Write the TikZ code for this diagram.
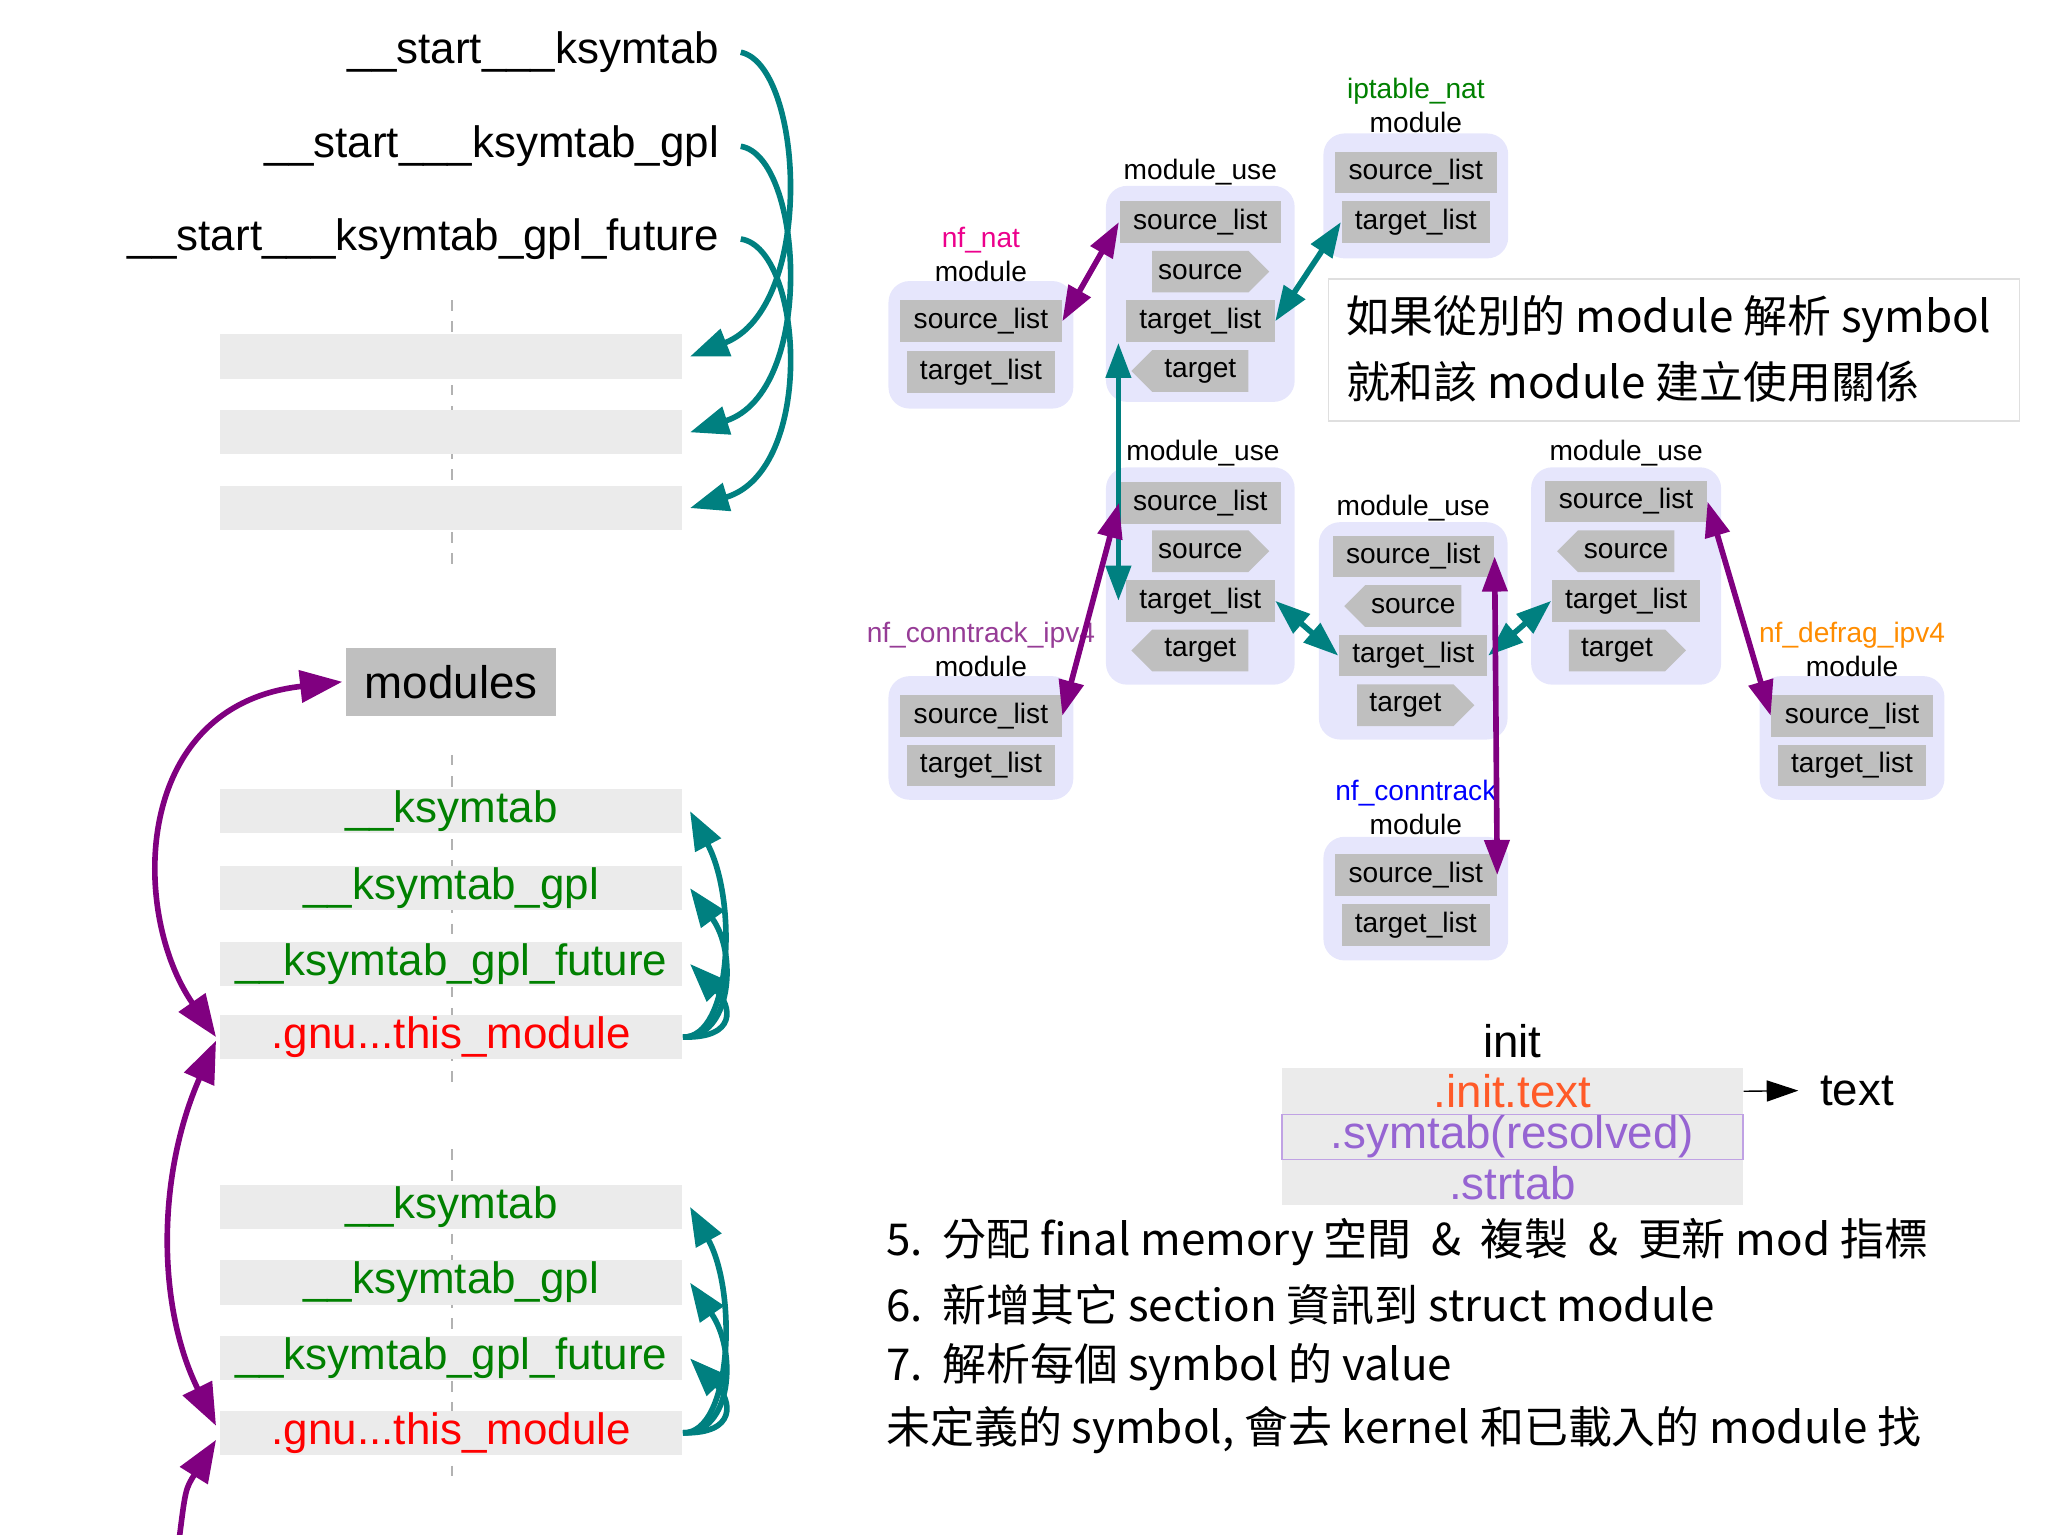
\documentclass[tikz,border=0pt]{standalone}
\usepackage{fontspec}
\setmainfont{Liberation Sans}
\newfontfamily\cjk{Noto Sans CJK TC}
\usetikzlibrary{shapes.symbols,arrows.meta}
\definecolor{lav}{RGB}{230,230,252}
\definecolor{tl}{RGB}{0,128,128}
\definecolor{pu}{RGB}{128,0,128}
\definecolor{nfpur}{RGB}{150,60,150}
\definecolor{initred}{RGB}{255,90,40}
\definecolor{symp}{RGB}{150,100,210}
\def\u{0.3703pt}
\tikzset{
 big/.style={font=\fontsize{12.5}{14}\selectfont, inner sep=0pt},
 bar/.style={fill=gray!16, minimum width=355*\u, minimum height=34*\u, inner sep=0pt, font=\fontsize{12.5}{14}\selectfont},
 grn/.style={bar, text={rgb,255:red,0;green,128;blue,0}},
 gnu/.style={bar, text=red},
 sm/.style={font=\fontsize{8}{9}\selectfont, inner sep=0pt},
 item/.style={sm, fill=gray!50, minimum height=32*\u, inner sep=0pt},
 sl/.style={item, minimum width=124*\u},
 tli/.style={item, minimum width=114*\u},
 sige/.style={item, signal, signal to=east, minimum width=90*\u},
 sigw/.style={item, signal, signal to=west, minimum width=90*\u},
 modbox/.style={fill=lav, rounded corners=6pt, inner sep=0pt},
 tarr/.style={draw=tl, line width=1.6pt, -{Triangle[length=11pt,width=8pt]}},
 parr/.style={draw=pu, line width=1.6pt, -{Triangle[length=11pt,width=8pt]}},
 tdbl/.style={draw=tl, line width=1.6pt, {Triangle[length=10pt,width=7pt]}-{Triangle[length=10pt,width=7pt]}},
 pdbl/.style={draw=pu, line width=1.6pt, {Triangle[length=10pt,width=7pt]}-{Triangle[length=10pt,width=7pt]}},
 cj/.style={font=\cjk\fontsize{12.5}{17.8}\selectfont, inner sep=0pt},
}
\begin{document}
\begin{tikzpicture}[x=0.013061cm, y=-0.013061cm]
\useasboundingbox (0,0) rectangle (1568,1175);
% ---------- left side ----------
\node[big, anchor=east] (s1) at (551,40) {\_\_start\_\_\_ksymtab};
\node[big, anchor=east] (s2) at (551,112) {\_\_start\_\_\_ksymtab\_gpl};
\node[big, anchor=east] (s3) at (551,183) {\_\_start\_\_\_ksymtab\_gpl\_future};
\coordinate (d1a) at (346,230); \coordinate (d1b) at (346,432);
\draw[gray!60, dashed, thin] (d1a) -- (d1b);
\node[bar] (b1) at (345.5,273) {};
\node[bar] (b2) at (345.5,331) {};
\node[bar] (b3) at (345.5,389) {};
\draw[tarr] ([xshift=6pt]s1.east) .. controls (615,50) and (625,235) .. ([xshift=2pt]b1.east);
\draw[tarr] ([xshift=6pt]s2.east) .. controls (615,120) and (625,300) .. ([xshift=2pt]b2.east);
\draw[tarr] ([xshift=6pt]s3.east) .. controls (615,190) and (625,360) .. ([xshift=2pt]b3.east);

\node[fill=gray!50, minimum width=161*\u, minimum height=52*\u, inner sep=0pt, font=\fontsize{13}{15}\selectfont] (mods) at (345.5,522) {modules};
\coordinate (d2a) at (346,578); \coordinate (d2b) at (346,832);
\draw[gray!60, dashed, thin] (d2a) -- (d2b);
\node[grn] (k1) at (345.5,621) {\_\_ksymtab};
\node[grn] (k2) at (345.5,680) {\_\_ksymtab\_gpl};
\node[grn] (k3) at (345.5,738) {\_\_ksymtab\_gpl\_future};
\node[gnu] (g1) at (345.5,794) {.gnu...this\_module};
\coordinate (d3a) at (346,880); \coordinate (d3b) at (346,1135);
\draw[gray!60, dashed, thin] (d3a) -- (d3b);
\node[grn] (m1) at (345.5,924) {\_\_ksymtab};
\node[grn] (m2) at (345.5,982) {\_\_ksymtab\_gpl};
\node[grn] (m3) at (345.5,1040) {\_\_ksymtab\_gpl\_future};
\node[gnu] (g2) at (345.5,1097) {.gnu...this\_module};

\draw[tarr] (g1.east) .. controls (560,795) and (565,690) .. ([xshift=2pt]k1.east);
\draw[tarr] (g1.east) .. controls (560,795) and (565,730) .. ([xshift=2pt]k2.east);
\draw[tarr] (g1.east) .. controls (565,795) and (560,770) .. ([xshift=2pt]k3.east);
\draw[tarr] (g2.east) .. controls (560,1098) and (565,990) .. ([xshift=2pt]m1.east);
\draw[tarr] (g2.east) .. controls (560,1098) and (565,1035) .. ([xshift=2pt]m2.east);
\draw[tarr] (g2.east) .. controls (565,1098) and (560,1072) .. ([xshift=2pt]m3.east);

\draw[draw=pu, line width=1.6pt, {Triangle[length=12pt,width=9pt]}-{Triangle[length=12pt,width=9pt]}] ([xshift=-1pt]g1.west) .. controls (100,700) and (100,540) .. ([xshift=-1pt]mods.west);
\draw[draw=pu, line width=1.6pt, {Triangle[length=12pt,width=9pt]}-{Triangle[length=12pt,width=9pt]}] ([xshift=-1pt,yshift=-1pt]g1.west) .. controls (120,900) and (120,1000) .. ([xshift=-1pt,yshift=2pt]g2.west);
\coordinate (bot) at (137,1180);
\draw[draw=pu, line width=1.6pt, -{Triangle[length=12pt,width=9pt]}] (bot) .. controls (142,1140) .. ([xshift=-1pt,yshift=-2pt]g2.west);

% ---------- right side : module boxes ----------
% A nf_nat
\node[modbox, minimum width=142*\u, minimum height=98*\u] (A) at (751,264) {};
\node[sm, text=magenta] (Al) at (751,184) {nf\_nat};
\node[sm] (Am) at (751,208) {module};
\node[sl] (Asl) at (751,246) {source\_list};
\node[tli] (Atl) at (751,285) {target\_list};
% B module_use
\node[modbox, minimum width=145*\u, minimum height=166*\u] (B) at (919,225) {};
\node[sm] (Bl) at (919,132) {module\_use};
\node[sl] (Bsl) at (919,170) {source\_list};
\node[sige] (Bs) at (919,208) {source};
\node[tli] (Btl) at (919,246) {target\_list};
\node[sigw] (Bt) at (919,284) {target};
% C iptable_nat
\node[modbox, minimum width=142*\u, minimum height=96*\u] (C) at (1084,150) {};
\node[sm, text={rgb,255:red,0;green,128;blue,0}] (Cl) at (1084,70) {iptable\_nat};
\node[sm] (Cm) at (1084,94) {module};
\node[sl] (Csl) at (1084,132) {source\_list};
\node[tli] (Ctl) at (1084,170) {target\_list};
% text box
\node[draw=gray!25, fill=white, minimum width=531*\u, minimum height=109*\u, inner sep=0pt] (TB) at (1281.5,268) {};
\node[cj, anchor=west] (TB1) at (1030,244) {如果從別的 module 解析 symbol};
\node[cj, anchor=west] (TB2) at (1030,292) {就和該 module 建立使用關係};
% D module_use
\node[modbox, minimum width=145*\u, minimum height=167*\u] (D) at (919,441) {};
\node[sm] (Dl) at (921,347) {module\_use};
\node[sl] (Dsl) at (919,385) {source\_list};
\node[sige] (Ds) at (919,422) {source};
\node[tli] (Dtl) at (919,460) {target\_list};
\node[sigw] (Dt) at (919,498) {target};
% E nf_conntrack_ipv4
\node[modbox, minimum width=142*\u, minimum height=95*\u] (E) at (751,565) {};
\node[sm, text=nfpur] (El) at (751,486) {nf\_conntrack\_ipv4};
\node[sm] (Em) at (751,510) {module};
\node[sl] (Esl) at (751,548) {source\_list};
\node[tli] (Etl) at (751,586) {target\_list};
% F module_use middle
\node[modbox, minimum width=145*\u, minimum height=167*\u] (F) at (1082,483) {};
\node[sm] (Fl) at (1082,389) {module\_use};
\node[sl] (Fsl) at (1082,426) {source\_list};
\node[sigw] (Fs) at (1082,464) {source};
\node[tli] (Ftl) at (1082,502) {target\_list};
\node[sige] (Ft) at (1076,540) {target};
% G module_use right
\node[modbox, minimum width=146*\u, minimum height=167*\u] (G) at (1245,441) {};
\node[sm] (Gl) at (1245,347) {module\_use};
\node[sl] (Gsl) at (1245,384) {source\_list};
\node[sigw] (Gs) at (1245,422) {source};
\node[tli] (Gtl) at (1245,460) {target\_list};
\node[sige] (Gt) at (1238,498) {target};
% H nf_defrag_ipv4
\node[modbox, minimum width=142*\u, minimum height=95*\u] (H) at (1418,565) {};
\node[sm, text={rgb,255:red,255;green,140;blue,0}] (Hl) at (1418,486) {nf\_defrag\_ipv4};
\node[sm] (Hm) at (1418,510) {module};
\node[sl] (Hsl) at (1418,548) {source\_list};
\node[tli] (Htl) at (1418,586) {target\_list};
% I nf_conntrack
\node[modbox, minimum width=142*\u, minimum height=95*\u] (I) at (1084,688) {};
\node[sm, text=blue] (Il) at (1084,607) {nf\_conntrack};
\node[sm] (Im) at (1084,631) {module};
\node[sl] (Isl) at (1084,670) {source\_list};
\node[tli] (Itl) at (1084,708) {target\_list};

% connectors
\draw[pdbl] (Asl.east) -- (Bsl.west);
\draw[tdbl] (Ctl.west) -- (Btl.east);
\draw[tdbl] ([xshift=-2pt]Btl.south west) -- ([xshift=-2pt]Dtl.west);
\draw[pdbl] (Esl.east) -- (Dsl.west);
\draw[tdbl] (Dtl.east) -- (Ftl.west);
\draw[tdbl] (Gtl.west) -- (Ftl.east);
\draw[pdbl] (Fsl.east) -- (Isl.east);
\draw[pdbl] (Gsl.east) -- (Hsl.west);

% ---------- init ----------
\node[font=\fontsize{13}{15}\selectfont, inner sep=0pt] (init) at (1158,797) {init};
\node[bar, minimum width=354*\u, minimum height=35*\u, text=initred, font=\fontsize{13}{15}\selectfont] (it) at (1158,835.5) {.init.text};
\node[bar, draw=symp!60, minimum width=354*\u, minimum height=35*\u, text=symp, font=\fontsize{13}{15}\selectfont] (sy) at (1158,870.5) {.symtab(resolved)};
\node[bar, minimum width=354*\u, minimum height=35*\u, text=symp, font=\fontsize{13}{15}\selectfont] (st) at (1158,905.5) {.strtab};
\node[font=\fontsize{13}{15}\selectfont, inner sep=0pt, anchor=west] (txt) at (1393,835) {text};
\draw[-{Triangle[length=9pt,width=6pt]}, thin] (it.east) -- ([xshift=-6pt]txt.west);

% ---------- list ----------
\node[cj, anchor=west] (L5) at (678,951) {5.\ \ 分配 final memory 空間 \ \& \ 複製 \ \& \ 更新 mod 指標};
\node[cj, anchor=west] (L6) at (678,999) {6.\ \ 新增其它 section 資訊到 struct module};
\node[cj, anchor=west] (L7) at (678,1047) {7.\ \ 解析每個 symbol 的 value};
\node[cj, anchor=west] (L8) at (678,1095) {未定義的 symbol,\ 會去 kernel 和已載入的 module 找};
\end{tikzpicture}
\end{document}
